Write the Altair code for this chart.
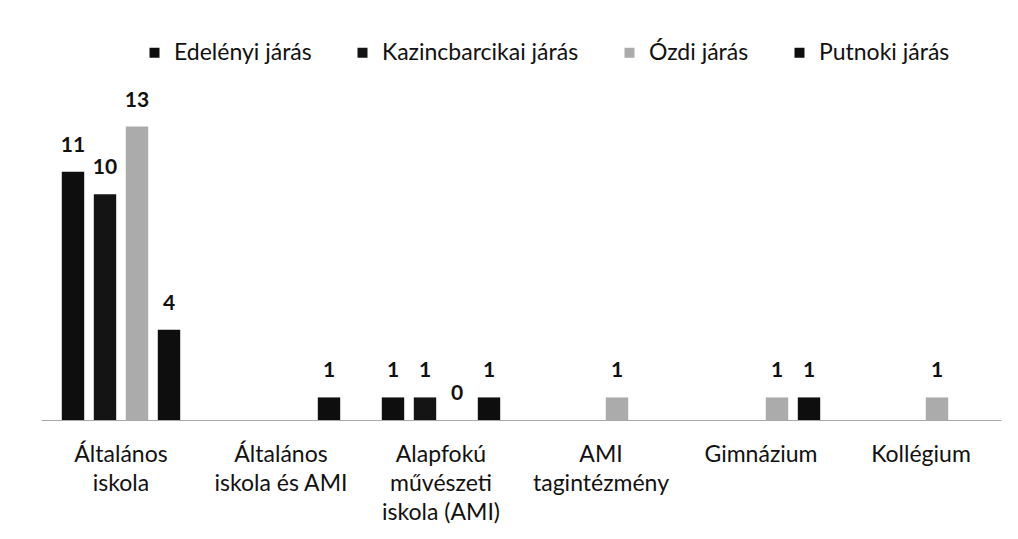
import altair as alt
import pandas as pd

categories = [
    "Általános|iskola",
    "Általános|iskola és AMI",
    "Alapfokú|művészeti|iskola (AMI)",
    "AMI|tagintézmény",
    "Gimnázium",
    "Kollégium",
]
series = ["Edelényi járás", "Kazincbarcikai járás", "Ózdi járás", "Putnoki járás"]
edelenyi = [11, None, 1, None, None, None]
kazincbarcikai = [10, None, 1, None, None, None]
ozdi = [13, None, 0, 1, 1, 1]
putnoki = [4, 1, 1, None, 1, None]
colors = ["#0e0e0e", "#141414", "#ababab", "#0e0e0e"]

rows = []
for name, vals in zip(series, [edelenyi, kazincbarcikai, ozdi, putnoki]):
    for cat, v in zip(categories, vals):
        rows.append({"category": cat, "series": name, "value": v})
df = pd.DataFrame(rows)

FONT = "Lato"

x_enc = alt.X(
    "category:N",
    sort=categories,
    scale=alt.Scale(paddingInner=0.2, paddingOuter=0.1),
    axis=alt.Axis(
        title=None,
        labelAngle=0,
        ticks=False,
        domainColor="#a8a8a8",
        domainWidth=1,
        labelExpr="split(datum.label, '|')",
        labelFont=FONT,
        labelFontSize=23,
        labelColor="#111111",
        labelLineHeight=29,
        labelPadding=23,
        labelBaseline="top",
        labelLimit=0,
    ),
)
xoff = alt.XOffset(
    "series:N", sort=series, scale=alt.Scale(paddingInner=0.3, paddingOuter=0.15)
)
y_enc = alt.Y("value:Q", scale=alt.Scale(domain=[0, 14]), axis=None)

bars = (
    alt.Chart(df)
    .mark_bar()
    .encode(
        x=x_enc,
        xOffset=xoff,
        y=y_enc,
        color=alt.Color(
            "series:N",
            sort=series,
            scale=alt.Scale(domain=series, range=colors),
            legend=alt.Legend(
                title=None,
                orient="none",
                direction="horizontal",
                legendX=102,
                legendY=-63,
                symbolType="square",
                symbolSize=100,
                symbolStrokeWidth=0,
                labelFont=FONT,
                labelFontSize=23,
                labelColor="#111111",
                labelOffset=8,
                labelLimit=0,
                columnPadding=39,
            ),
        ),
    )
)

labels = (
    alt.Chart(df)
    .transform_filter("datum.value != null")
    .mark_text(font=FONT, fontSize=21, fontWeight="bold", color="#111111", dy=-20, baseline="alphabetic")
    .encode(x=x_enc, xOffset=xoff, y=y_enc, text=alt.Text("value:Q"))
)

chart = (
    alt.layer(bars, labels)
    .properties(
        width=960,
        height=316,
        background="white",
        autosize=alt.AutoSizeParams(type="none"),
        padding={"left": 33, "top": 96, "right": 9, "bottom": 115},
    )
    .configure_view(strokeWidth=0, stroke=None)
)

chart.save("out.html", embed_options={"renderer": "svg", "actions": False})
